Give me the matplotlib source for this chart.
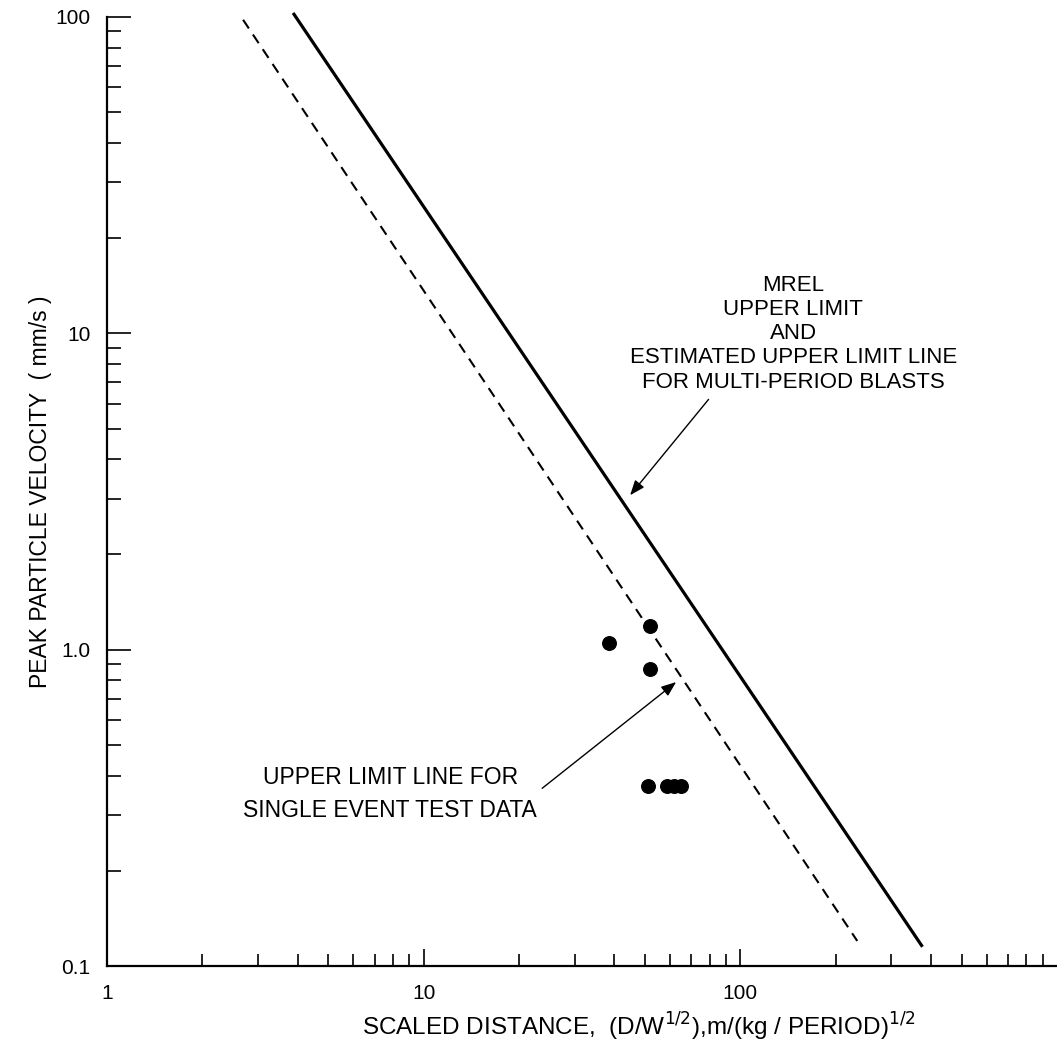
import matplotlib
matplotlib.use("Agg")
import matplotlib.pyplot as plt
from matplotlib.ticker import LogLocator, FixedLocator, NullFormatter, FixedFormatter

plt.rcParams['font.family'] = ['Liberation Sans', 'DejaVu Sans']

# Upper limit lines (endpoints)
mrel_x = [3.87, 376]
mrel_y = [103, 0.115]
single_x = [2.69, 234]
single_y = [98, 0.12]

# Test data points
pts_x = [38.6, 51.9, 51.9, 51.2, 58.8, 61.9, 65.1]
pts_y = [1.05, 1.19, 0.868, 0.371, 0.371, 0.371, 0.371]

x_ticks = [1, 10, 100]
x_ticklabels = ["1", "10", "100"]
y_ticks = [0.1, 1, 10, 100]
y_ticklabels = ["0.1", "1.0", "10", "100"]

fig = plt.figure(figsize=(10.57, 10.62), dpi=100)
ax = fig.add_axes([107/1057, 1 - 966/1062, 1 - 107/1057, (966 - 17)/1062])
ax.set_xscale('log')
ax.set_yscale('log')
ax.set_xlim(1, 1000)
ax.set_ylim(0.1, 100)

ax.plot(mrel_x, mrel_y, color='black', lw=2.3, solid_capstyle='butt', clip_on=False)
ax.plot(single_x, single_y, color='black', lw=1.5, linestyle=(0, (5, 3.5)), clip_on=False)
ax.scatter(pts_x, pts_y, s=95, color='black', zorder=5)

for s in ['top', 'right']:
    ax.spines[s].set_visible(False)
for s in ['left', 'bottom']:
    ax.spines[s].set_linewidth(1.6)

ax.xaxis.set_major_locator(FixedLocator(x_ticks))
ax.xaxis.set_major_formatter(FixedFormatter(x_ticklabels))
ax.yaxis.set_major_locator(FixedLocator(y_ticks))
ax.yaxis.set_major_formatter(FixedFormatter(y_ticklabels))
ax.xaxis.set_minor_locator(LogLocator(base=10, subs=range(2, 10)))
ax.yaxis.set_minor_locator(LogLocator(base=10, subs=range(2, 10)))
ax.xaxis.set_minor_formatter(NullFormatter())
ax.yaxis.set_minor_formatter(NullFormatter())

ax.tick_params(axis='x', which='major', direction='in', length=12, width=1.2, pad=13, labelsize=15)
ax.tick_params(axis='x', which='minor', direction='in', length=8.6, width=1.2)
ax.tick_params(axis='y', which='major', direction='in', length=17, width=1.2, pad=12, labelsize=15)
ax.tick_params(axis='y', which='minor', direction='in', length=10, width=1.2)

ax.set_ylabel("PEAK PARTICLE VELOCITY  ( mm/s )", fontsize=16.5, labelpad=2)
ax.set_xlabel(r"SCALED DISTANCE,  (D/W$^{1/2}$),m/(kg / PERIOD)$^{1/2}$", fontsize=17.5)
ax.xaxis.set_label_coords(0.56, -0.047)

ax.text(147, 6.5, "MREL\nUPPER LIMIT\nAND\nESTIMATED UPPER LIMIT LINE\nFOR MULTI-PERIOD BLASTS",
        ha='center', va='bottom', fontsize=16, linespacing=1.2)
ax.annotate("", xy=(44.3, 3.03), xytext=(80.4, 6.28),
            arrowprops=dict(arrowstyle='-|>,head_length=0.9,head_width=0.35', color='black', lw=1.0))

ax.text(7.84, 0.43, "UPPER LIMIT LINE FOR\nSINGLE EVENT TEST DATA",
        ha='center', va='top', fontsize=16.5, linespacing=1.6)
ax.annotate("", xy=(63.7, 0.80), xytext=(23.3, 0.36),
            arrowprops=dict(arrowstyle='-|>,head_length=0.9,head_width=0.35', color='black', lw=1.0))

fig.savefig("out.png", dpi=100)
